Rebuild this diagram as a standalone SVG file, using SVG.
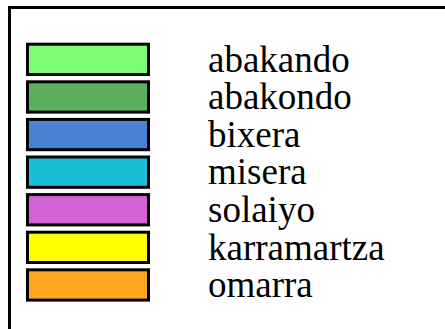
<svg xmlns="http://www.w3.org/2000/svg" width="445" height="329" viewBox="0 0 445 329">
<style>
.sw{stroke:#000;stroke-width:3}
.lb{font-family:"Liberation Serif","Times New Roman",serif;font-size:37px;fill:#000}
</style>
<rect width="445" height="329" fill="#fff"/>
<path d="M9.5,329 V7.5 H445" fill="none" stroke="#000" stroke-width="3"/>
<g id="item1"><rect class="sw" x="27.5" y="44.2" width="121" height="30.3" fill="#7CFC74"/><text class="lb" x="208" y="71.5">abakando</text></g>
<g id="item2"><rect class="sw" x="27.5" y="81.8" width="121" height="30.3" fill="#5BAE5B"/><text class="lb" x="208" y="109.1">abakondo</text></g>
<g id="item3"><rect class="sw" x="27.5" y="119.4" width="121" height="30.3" fill="#4A82D4"/><text class="lb" x="208" y="146.7">bixera</text></g>
<g id="item4"><rect class="sw" x="27.5" y="157" width="121" height="30.3" fill="#19BED6"/><text class="lb" x="208" y="184.3">misera</text></g>
<g id="item5"><rect class="sw" x="27.5" y="194.6" width="121" height="30.3" fill="#D462D4"/><text class="lb" x="208" y="221.9">solaiyo</text></g>
<g id="item6"><rect class="sw" x="27.5" y="232.2" width="121" height="30.3" fill="#FFFF00"/><text class="lb" x="208" y="259.5">karramartza</text></g>
<g id="item7"><rect class="sw" x="27.5" y="269.8" width="121" height="30.3" fill="#FFA620"/><text class="lb" x="208" y="297.1">omarra</text></g>
</svg>
